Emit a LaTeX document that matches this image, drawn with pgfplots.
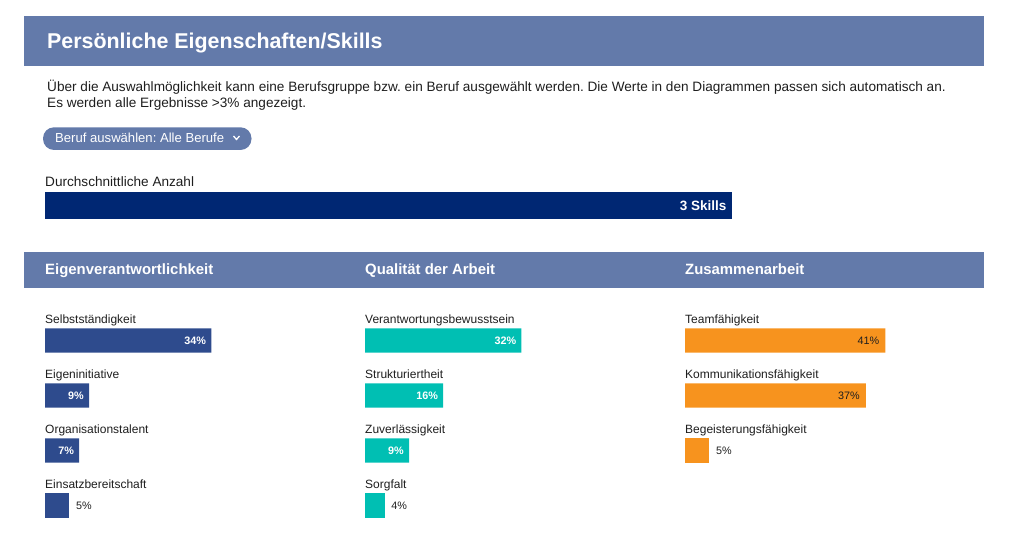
\documentclass[border=0pt]{standalone}
\usepackage{fontspec}
\setmainfont{Liberation Sans}
\usepackage{pgfplots}
\pgfplotsset{compat=1.18}
\frenchspacing

\definecolor{banner}{HTML}{637AAA}
\definecolor{navy}{HTML}{002773}
\definecolor{barblue}{HTML}{2E4B8D}
\definecolor{tealbar}{HTML}{00BFB3}
\definecolor{orangebar}{HTML}{F7931E}
\definecolor{txt}{HTML}{1E1E1E}

\newcommand{\bodyfont}{\fontsize{13.6}{16}\selectfont}
\newcommand{\catfont}{\fontsize{12}{14}\selectfont}
\newcommand{\valfont}{\fontsize{10.8}{12}\selectfont}

\pgfplotsset{
  /pgf/number format/assume math mode=true,
  panel/.style={xbar, hide axis, scale only axis, anchor=north west,
    width=244.5pt, height=220pt, xmin=0, xmax=50,
    ymin=-0.5, ymax=3.5, y dir=reverse,
    bar width=24.3pt, bar shift=0pt, clip=false, point meta=x,
    nodes near coords={\pgfmathprintnumber{\pgfplotspointmeta}\%}},
}
\tikzset{
  inlab/.style={anchor=east, xshift=-5pt, inner sep=0pt, text=white, font=\valfont\bfseries},
  inlabdark/.style={anchor=east, xshift=-6pt, inner sep=0pt, text=txt, font=\valfont},
  outlab/.style={anchor=west, xshift=6.5pt, inner sep=0pt, text=txt, font=\valfont},
  cat/.style={anchor=base west, inner sep=0pt, text=txt, font=\catfont},
}

\begin{document}
\begin{tikzpicture}[x=1pt,y=-1pt]
\useasboundingbox (0,0) rectangle (1015,534);

% title banner
\fill[banner] (24,16) rectangle (983.5,66);
\node[anchor=base west, inner sep=0pt, text=white, font=\fontsize{21.4}{25}\selectfont\bfseries] at (47,48.5) {Persönliche Eigenschaften/Skills};

\node[anchor=base west, inner sep=0pt, text=txt, font=\bodyfont] at (47,92) {Über die Auswahlmöglichkeit kann eine Berufsgruppe bzw. ein Beruf ausgewählt werden. Die Werte in den Diagrammen passen sich automatisch an.};
\node[anchor=base west, inner sep=0pt, text=txt, font=\bodyfont] at (47,107.5) {Es werden alle Ergebnisse >3\% angezeigt.};

% selector pill
\fill[banner, rounded corners=11pt] (43,127.3) rectangle (251.5,150);
\node[anchor=base west, inner sep=0pt, text=white, font=\fontsize{13.1}{15}\selectfont] at (55,142.7) {Beruf auswählen: Alle Berufe};
\draw[white, line width=1.3pt] (233.5,136) -- (236.5,139.5) -- (239.5,136);

\node[anchor=base west, inner sep=0pt, text=txt, font=\bodyfont] at (45,186.7) {Durchschnittliche Anzahl};

% average number of skills
\begin{axis}[xbar, hide axis, scale only axis, at={(45pt,-192.3pt)}, anchor=north west,
  width=686.7pt, height=26.7pt, xmin=0, xmax=3, ymin=-0.5, ymax=0.5,
  bar width=26.7pt, bar shift=0pt, clip=false, point meta=x,
  nodes near coords={\pgfmathprintnumber{\pgfplotspointmeta} Skills},
  nodes near coords style={anchor=east, xshift=-5pt, inner sep=0pt, text=white,
    font=\fontsize{13.5}{15}\selectfont\bfseries}]
\addplot[fill=navy, draw=none] coordinates {(3,0)};
\end{axis}

% section banner
\fill[banner] (24,251.7) rectangle (983.5,287.7);
\foreach \x/\t in {45/Eigenverantwortlichkeit, 365/Qualität der Arbeit, 685/Zusammenarbeit}
  \node[anchor=base west, inner sep=0pt, text=white, font=\fontsize{14.9}{17}\selectfont\bfseries] at (\x,275) {\t};

% Eigenverantwortlichkeit
\begin{axis}[panel, at={(45pt,-313pt)}]
\addplot[fill=barblue, draw=none, nodes near coords style={inlab}] coordinates {(34,0) (9,1) (7,2)};
\addplot[fill=barblue, draw=none, nodes near coords style={outlab}] coordinates {(5,3)};
\node[cat] at ([yshift=16.5pt]axis cs:0,0) {Selbstständigkeit};
\node[cat] at ([yshift=16.5pt]axis cs:0,1) {Eigeninitiative};
\node[cat] at ([yshift=16.5pt]axis cs:0,2) {Organisationstalent};
\node[cat] at ([yshift=16.5pt]axis cs:0,3) {Einsatzbereitschaft};
\end{axis}

% Qualitaet der Arbeit
\begin{axis}[panel, at={(365pt,-313pt)}]
\addplot[fill=tealbar, draw=none, nodes near coords style={inlab}] coordinates {(32,0) (16,1) (9,2)};
\addplot[fill=tealbar, draw=none, nodes near coords style={outlab}] coordinates {(4,3)};
\node[cat] at ([yshift=16.5pt]axis cs:0,0) {Verantwortungsbewusstsein};
\node[cat] at ([yshift=16.5pt]axis cs:0,1) {Strukturiertheit};
\node[cat] at ([yshift=16.5pt]axis cs:0,2) {Zuverlässigkeit};
\node[cat] at ([yshift=16.5pt]axis cs:0,3) {Sorgfalt};
\end{axis}

% Zusammenarbeit
\begin{axis}[panel, at={(685pt,-313pt)}]
\addplot[fill=orangebar, draw=none, nodes near coords style={inlabdark}] coordinates {(41,0) (37,1)};
\addplot[fill=orangebar, draw=none, nodes near coords style={outlab}] coordinates {(5,2)};
\node[cat] at ([yshift=16.5pt]axis cs:0,0) {Teamfähigkeit};
\node[cat] at ([yshift=16.5pt]axis cs:0,1) {Kommunikationsfähigkeit};
\node[cat] at ([yshift=16.5pt]axis cs:0,2) {Begeisterungsfähigkeit};
\end{axis}
\end{tikzpicture}
\end{document}
